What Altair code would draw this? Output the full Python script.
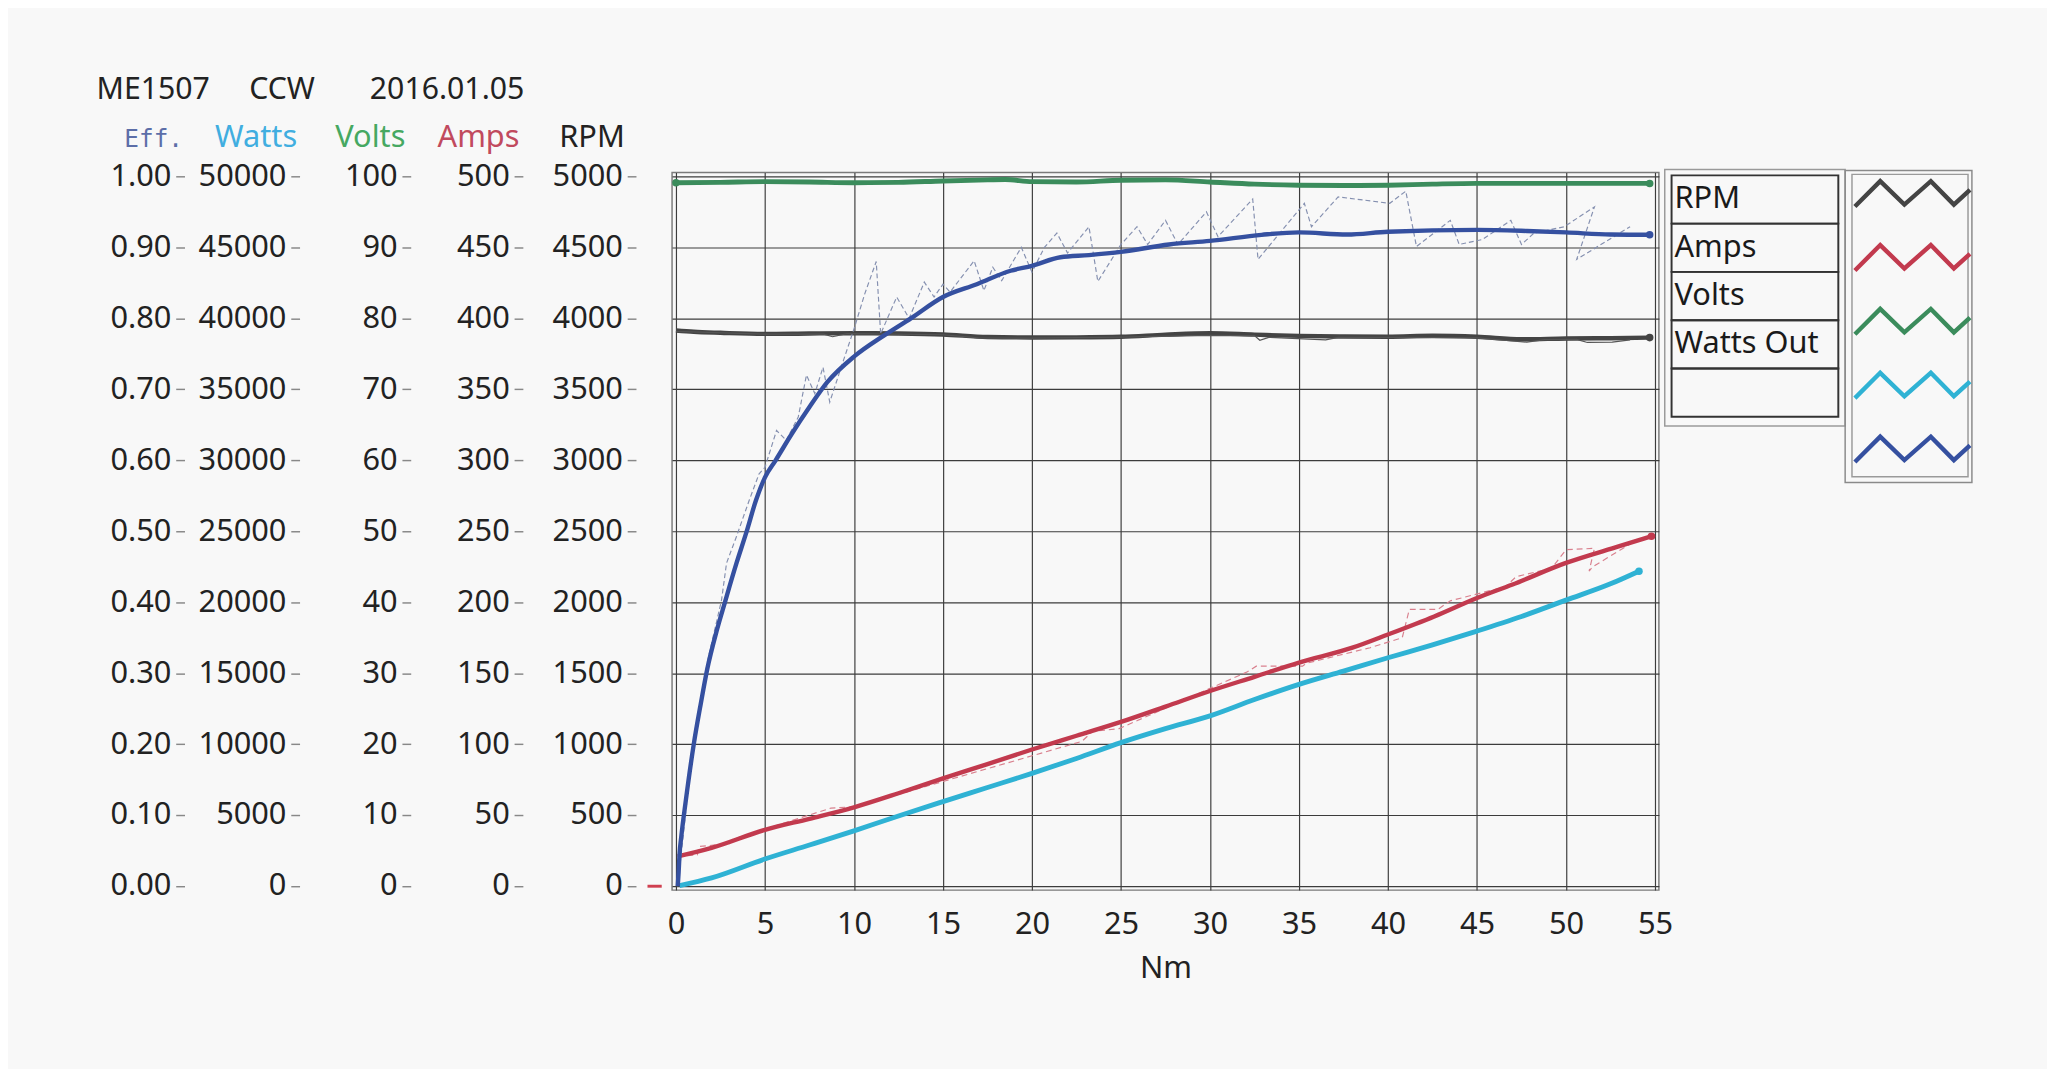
import altair as alt
import pandas as pd

# ---------------- data ----------------
# Volts (green)
volts_nm = [0, 2.5, 5, 7.5, 10, 12.5, 15, 17.5, 18.5, 20, 22.5, 25, 27.5, 30, 32.5, 35, 37.5, 40, 42.5, 45, 47.5, 50, 52.5, 54.7]
volts_v = [99.1, 99.15, 99.25, 99.2, 99.1, 99.15, 99.35, 99.5, 99.55, 99.25, 99.2, 99.45, 99.5, 99.2, 98.9, 98.75, 98.7, 98.75, 98.9, 99.0, 99.0, 99.0, 99.0, 99.0]

# RPM (dark grey), smoothed and raw
rpm_nm = [0, 1, 2.5, 5, 7.5, 10, 12.5, 15, 17.5, 20, 22.5, 25, 27.5, 30, 32.5, 35, 37.5, 40, 42.5, 45, 47.5, 50, 52.5, 54.7]
rpm_v = [3914, 3905, 3898, 3890, 3893, 3895, 3893, 3886, 3868, 3865, 3866, 3870, 3885, 3895, 3885, 3876, 3872, 3870, 3877, 3870, 3852, 3858, 3860, 3864]
rpm_raw_nm = [0, 5, 8.3, 8.8, 9.6, 15, 17, 20, 25, 30, 32.5, 32.8, 33.3, 36.5, 37.2, 40, 45, 46.8, 47.8, 48.8, 50.6, 51.2, 52.6, 53.6]
rpm_raw_v = [3908, 3888, 3888, 3870, 3892, 3884, 3862, 3860, 3868, 3880, 3878, 3845, 3866, 3848, 3866, 3866, 3862, 3842, 3832, 3850, 3852, 3830, 3832, 3848]

# Amps (red), smoothed and raw
amps_nm = [0.1, 2, 5, 7.5, 10, 12.5, 15, 17.5, 20, 22.5, 25, 27.5, 30, 32.5, 35, 38, 40, 42.6, 45, 47, 50, 53, 54.8]
amps_v = [21, 27, 39.7, 47.5, 55.6, 65.5, 76, 86, 96.3, 106, 115.7, 126.5, 137.5, 147.5, 157.5, 168, 177.3, 190, 203, 212.5, 227.7, 239.5, 246.5]
amps_raw_nm = [0.1, 1.2, 1.3, 3.0, 3.2, 8.7, 10.0, 10.1, 11.2, 22.8, 23.4, 24.9, 32.1, 32.6, 35.2, 35.4, 39.0, 40.8, 41.2, 42.8, 43.5, 46.6, 47.2, 49.2, 50.0, 51.6, 51.3, 51.5, 53.6]
amps_raw_v = [21, 22, 28, 30, 33, 55, 56, 56, 60, 102, 109, 111, 151, 155, 155, 157, 168, 175, 195, 195, 201, 211, 218, 224, 237, 238, 222, 225, 241]
amps_mark_nm = [-1.6, -0.8]
amps_mark_v = [0, 0]

# Watts out (cyan)
watts_nm = [0.2, 2, 5, 7.5, 10, 12.5, 15, 17.5, 20, 22.5, 25, 27.5, 30, 32.5, 35, 37.5, 40, 42.5, 45, 47.5, 50, 52.5, 54.1]
watts_v = [47, 584, 1916, 2900, 3902, 4950, 5958, 6950, 7944, 9000, 10117, 11100, 12000, 13150, 14215, 15150, 16090, 17000, 17970, 19000, 20150, 21300, 22190]

# Efficiency (blue), smoothed and raw
eff_nm = [0.1, 0.15, 0.2, 0.3, 0.55, 1.0, 1.4, 1.75, 2.3, 2.75, 3.4, 3.95, 4.5, 5.0, 5.6, 6.5, 7.5, 8.5, 10.0, 11.7, 13.2, 15.0, 16.9, 18.8, 20.0, 21.6, 23.2, 25.0, 27.7, 30.0, 32.9, 35.0, 37.7, 40.0, 45.0, 47.8, 50.0, 52.5, 54.7]
eff_v = [0.0, 0.02, 0.045, 0.07, 0.12, 0.20, 0.258, 0.305, 0.361, 0.40, 0.455, 0.498, 0.544, 0.576, 0.60, 0.637, 0.675, 0.71, 0.746, 0.776, 0.80, 0.83, 0.848, 0.867, 0.874, 0.886, 0.889, 0.8935, 0.904, 0.909, 0.9176, 0.921, 0.918, 0.922, 0.9245, 0.923, 0.921, 0.918, 0.9176]
eff_raw_nm = [0.1, 1.0, 1.8, 2.56, 2.84, 3.39, 4.12, 4.67, 5.0, 5.65, 6.2, 6.87, 7.33, 7.8, 8.26, 8.64, 9.4, 10.04, 10.6, 11.25, 11.5, 12.4, 13.1, 13.95, 14.5, 15.0, 15.4, 16.75, 17.3, 17.8, 18.3, 19.4, 20.0, 20.7, 21.4, 22.0, 23.2, 23.7, 25.0, 25.9, 26.5, 27.5, 28.2, 29.8, 30.45, 32.4, 32.7, 35.3, 35.7, 37.2, 40.1, 41.0, 41.6, 43.5, 44.0, 45.3, 46.9, 47.5, 48.2, 49.9, 51.6, 50.6, 53.6]
eff_raw_v = [0.0, 0.21, 0.32, 0.403, 0.455, 0.492, 0.544, 0.581, 0.59, 0.642, 0.628, 0.661, 0.72, 0.694, 0.731, 0.682, 0.74, 0.788, 0.834, 0.88, 0.778, 0.83, 0.80, 0.851, 0.83, 0.848, 0.837, 0.881, 0.839, 0.872, 0.853, 0.90, 0.865, 0.90, 0.92, 0.892, 0.929, 0.852, 0.904, 0.929, 0.904, 0.938, 0.904, 0.95, 0.915, 0.968, 0.883, 0.962, 0.929, 0.971, 0.962, 0.979, 0.901, 0.938, 0.904, 0.911, 0.938, 0.904, 0.92, 0.929, 0.957, 0.883, 0.929]

# axis tick labels
nm_ticks = list(range(0, 60, 5))
eff_ticks = [i / 10 for i in range(11)]
watts_ticks = list(range(0, 50001, 5000))
volts_ticks = list(range(0, 101, 10))
amps_ticks = list(range(0, 501, 50))
rpm_ticks = list(range(0, 5001, 500))

NB = "\u00a0"
TITLE = "ME1507" + NB * 5 + "CCW" + NB * 7 + "2016.01.05"
legend_labels = ["RPM", "Amps", "Volts", "Watts Out", ""]
legend_keys = ["RPM", "Amps", "Volts", "Watts", "Eff"]

# ---------------- styles ----------------
C_VOLTS = "#3b8c5c"
C_RPM = "#444444"
C_AMPS = "#c23a4e"
C_WATTS = "#2fb2d4"
C_EFF = "#3550a0"
FONT = "Noto Sans"
LBL = 31.5
W, H, PAD = 1012, 736, 4


def frame(xs, ys):
    return pd.DataFrame({"nm": xs, "v": ys, "i": list(range(len(xs)))})


xenc = alt.X("nm:Q", scale=alt.Scale(domain=[0, 55], nice=False, zero=False, padding=PAD),
             axis=alt.Axis(values=nm_ticks, grid=True, gridColor="#3c3c3c", gridWidth=1.2,
                           ticks=False, domain=False, labelFlush=False, labelOverlap=False,
                           labelFont=FONT, labelFontSize=LBL, labelColor="#222", labelPadding=20,
                           title="Nm", titleFont=FONT, titleFontSize=LBL, titleFontWeight="normal",
                           titleColor="#222", titlePadding=13))


def yaxis(title, values, fmt, offset, color, title_x, tfont=FONT, tsize=LBL, grid=False):
    return alt.Axis(title=title, values=values, format=fmt, orient="left", offset=offset, grid=grid,
                    gridColor="#3c3c3c", gridWidth=1.2, domain=False, tickSize=9, tickColor="#888",
                    tickWidth=1.5, labelPadding=5, labelFont=FONT, labelFontSize=LBL, labelColor="#222",
                    labelOverlap=False, labelFlush=False, titleAngle=0, titleAlign="right",
                    titleBaseline="alphabetic", titleX=title_x, titleY=-27, titleColor=color,
                    titleFont=tfont, titleFontSize=tsize, titleFontWeight="normal")


def yenc(domain, axis):
    return alt.Y("v:Q", scale=alt.Scale(domain=domain, nice=False, zero=False, padding=PAD), axis=axis)


def line(df, color, width, domain, axis, dash=None, interp="monotone", clip=True):
    kw = dict(color=color, strokeWidth=width, interpolate=interp, clip=clip)
    if dash:
        kw["strokeDash"] = dash
    return alt.Chart(df).mark_line(**kw).encode(x=xenc, y=yenc(domain, axis), order="i:Q")


def dots(df, color, domain, axis):
    return alt.Chart(df).mark_circle(color=color, size=60, opacity=1).encode(
        x=xenc, y=yenc(domain, axis))


d_v = [0, 100]
d_a = [0, 500]
d_r = [0, 5000]
d_w = [0, 50000]
d_e = [0, 1]

ax_v = yaxis("Volts", volts_ticks, "d", 268, "#46a862", -6)
ax_a = yaxis("Amps", amps_ticks, "d", 153, "#c14a5e", -4)
ax_r = yaxis("RPM", rpm_ticks, "d", 37, "#222", -12, grid=True)
ax_w = yaxis("Watts", watts_ticks, "d", 382, "#41aee0", -3)
ax_e = yaxis("Eff.", eff_ticks, ".2f", 500, "#5c6ea8", -2, tfont="DejaVu Sans Mono", tsize=25)

vdf = frame(volts_nm, volts_v)
volts_layer = alt.layer(
    line(vdf, C_VOLTS, 5, d_v, ax_v),
    dots(vdf.iloc[[0, -1]], C_VOLTS, d_v, ax_v),
)

adf = frame(amps_nm, amps_v)
amps_layer = alt.layer(
    line(frame(amps_raw_nm, amps_raw_v), "#d9808e", 1.2, d_a, ax_a, dash=[6, 4], interp="linear"),
    line(adf, C_AMPS, 4.5, d_a, ax_a),
    dots(adf.iloc[[-1]], C_AMPS, d_a, ax_a),
    line(frame(amps_mark_nm, amps_mark_v), "#d04050", 3, d_a, ax_a, interp="linear", clip=False),
)

rdf = frame(rpm_nm, rpm_v)
rpm_layer = alt.layer(
    line(rdf, C_RPM, 4.5, d_r, ax_r),
    line(frame(rpm_raw_nm, rpm_raw_v), "#555", 1.2, d_r, ax_r, interp="linear"),
    dots(rdf.iloc[[-1]], C_RPM, d_r, ax_r),
)

wdf = frame(watts_nm, watts_v)
watts_layer = alt.layer(
    line(wdf, C_WATTS, 5, d_w, ax_w),
    dots(wdf.iloc[[-1]], C_WATTS, d_w, ax_w),
)

edf = frame(eff_nm, eff_v)
eff_layer = alt.layer(
    line(frame(eff_raw_nm, eff_raw_v), "#8590b0", 1.2, d_e, ax_e, dash=[5, 3], interp="linear"),
    line(edf, C_EFF, 4.5, d_e, ax_e),
    dots(edf.iloc[[-1]], C_EFF, d_e, ax_e),
)

main = alt.layer(rpm_layer, amps_layer, volts_layer, watts_layer, eff_layer).resolve_scale(
    y="independent").properties(width=W, height=H,
                                view=alt.ViewBackground(stroke="#7a7a7a", strokeWidth=1.5))

# ---------------- custom legend panel ----------------
LW = 315
lx = alt.Scale(domain=[0, LW], nice=False, zero=False)
ly = alt.Scale(domain=[0, H], nice=False, zero=False, reverse=True)
ROW_TOP, ROW_H = 3, 49.5
frames_df = pd.DataFrame({
    "x": [0, 185, 192], "x2": [185, 315, 311], "y": [-3, -2, 2], "y2": [260, 318, 312],
    "c": ["#9a9a9a", "#8a8a8a", "#9a9a9a"]})
cells_df = pd.DataFrame({
    "x": [7] * 5, "x2": [178] * 5,
    "y": [ROW_TOP + ROW_H * i for i in range(5)],
    "y2": [ROW_TOP + ROW_H * (i + 1) for i in range(5)],
    "label": legend_labels,
    "ty": [ROW_TOP + ROW_H * (i + 0.5) for i in range(5)]})
zig_fx = [0, 0.22, 0.43, 0.66, 0.86, 1.0]
zig_dy = [14, -12, 12, -12, 12, -3]
zig_rows = []
for r, key in enumerate(legend_keys):
    for j, (fx, dy) in enumerate(zip(zig_fx, zig_dy)):
        zig_rows.append({"key": key, "x": 195 + fx * 118, "y": 21 + 65.5 * r + dy, "j": j})
zig_df = pd.DataFrame(zig_rows)
line_colors = [C_RPM, C_AMPS, C_VOLTS, C_WATTS, C_EFF]

leg_frames = alt.Chart(frames_df).mark_rect(fillOpacity=0, strokeWidth=1.5, clip=False).encode(
    x=alt.X("x:Q", scale=lx, axis=None), x2="x2", y=alt.Y("y:Q", scale=ly, axis=None), y2="y2",
    stroke=alt.Stroke("c:N", scale=None))
leg_cells = alt.Chart(cells_df).mark_rect(fillOpacity=0, stroke="#333", strokeWidth=2).encode(
    x=alt.X("x:Q", scale=lx, axis=None), x2="x2", y=alt.Y("y:Q", scale=ly, axis=None), y2="y2")
leg_text = alt.Chart(cells_df).mark_text(align="left", baseline="middle", font=FONT, fontSize=31.5,
                                         color="#1a1a1a", dx=3).encode(
    x=alt.X("x:Q", scale=lx, axis=None), y=alt.Y("ty:Q", scale=ly, axis=None), text="label:N")
leg_lines = alt.Chart(zig_df).mark_line(strokeWidth=4.5, clip=False).encode(
    x=alt.X("x:Q", scale=lx, axis=None), y=alt.Y("y:Q", scale=ly, axis=None),
    color=alt.Color("key:N", scale=alt.Scale(domain=legend_keys, range=line_colors), legend=None),
    detail="key:N", order="j:Q")
legend = alt.layer(leg_frames, leg_cells, leg_text, leg_lines).properties(
    width=LW, height=H, view=alt.ViewBackground(strokeOpacity=0))

chart = alt.hconcat(main, legend, spacing=6, bounds="flush").properties(
    title=alt.TitleParams(TITLE, anchor="start", frame="bounds", font=FONT, fontSize=31,
                          fontWeight="normal", color="#222", offset=15.5, dx=-13),
    background="#f8f8f8",
    padding={"left": 90, "top": 54, "right": 70, "bottom": 80},
).configure_view(strokeWidth=0)

chart.save("out.html", embed_options={"renderer": "svg", "actions": False})
